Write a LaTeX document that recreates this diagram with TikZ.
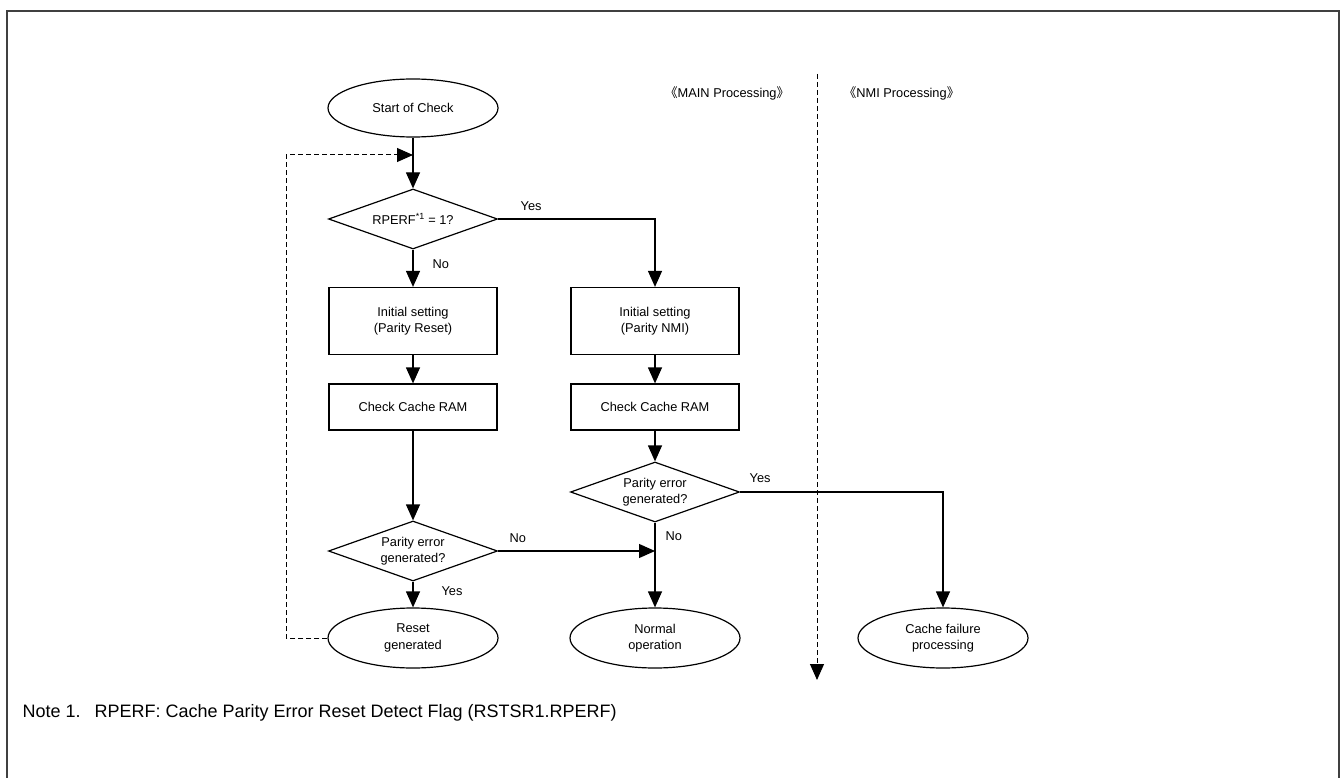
\documentclass[tikz,border=0pt]{standalone}
\usepackage{fontspec}
\setmainfont{Liberation Sans}
\newfontfamily\cjk{Noto Sans CJK SC}
\usetikzlibrary{positioning,arrows.meta,shapes.geometric}

\begin{document}
\begin{tikzpicture}[x=1pt,y=-1pt,>={Triangle[length=16pt,width=14pt]},line width=1.2pt,
  every node/.style={font=\fontsize{12.8}{16.5}\selectfont},
  term/.style={draw,ellipse,minimum width=170pt,minimum height=58pt,inner sep=0pt,align=center},
  proc/.style={draw,rectangle,minimum width=168pt,inner sep=0pt,align=center},
  decision/.style={draw,diamond,aspect=3,minimum width=169pt,minimum height=60pt,inner sep=0pt,align=center},
  lbl/.style={inner sep=0pt},
  loop/.style={line width=1pt,dash pattern=on 5pt off 3pt}]
\useasboundingbox (0,0) rectangle (1340,778);
\draw[line width=2pt,black!75] (7,778) -- (7,11) -- (1339,11) -- (1339,778);

% headings
\node[lbl,anchor=east] (mainlbl) at (790,93) {{\cjk 《}MAIN Processing{\cjk 》}};
\node[lbl,anchor=west] (nmilbl) at (843,93) {{\cjk 《}NMI Processing{\cjk 》}};

% main flow
\node[term] (start) at (413,108) {Start of Check};
\node[decision] (q1) at (413,219) {RPERF\textsuperscript{*1} = 1?};
\node[proc,minimum height=67pt] (init1) at (413,321) {Initial setting\\(Parity Reset)};
\node[proc,minimum height=67pt] (init2) at (655,321) {Initial setting\\(Parity NMI)};
\node[proc,minimum height=46pt] (chk1) at (413,407) {Check Cache RAM};
\node[proc,minimum height=46pt] (chk2) at (655,407) {Check Cache RAM};
\node[decision] (q3) at (655,492) {Parity error\\generated?};
\node[decision] (q2) at (413,551) {Parity error\\generated?};
\node[term,minimum height=60pt] (rst) at (413,638) {Reset\\generated};
\node[term,minimum height=60pt] (norm) at (655,638) {Normal\\operation};
\node[term,minimum height=60pt] (fail) at (943,638) {Cache failure\\processing};

% branch labels
\node[lbl,above right=8pt and 22pt of q1.east] (yes1) {Yes};
\node[lbl,below right=9pt and 19pt of q1.south] (no1) {No};
\node[lbl,above right=8pt and 11pt of q2.east] (no2) {No};
\node[lbl,below right=4pt and 28pt of q2.south] (yes2) {Yes};
\node[lbl,below right=8pt and 10pt of q3.south] (no3) {No};
\node[lbl,above right=9pt and 9pt of q3.east] (yes3) {Yes};

\coordinate (join) at (q3.south |- q2.east);
\coordinate (back) at (413,155);
\coordinate (divtop) at (817,74);
\coordinate (divbot) at (817,680);

\draw[->] (start) -- (q1);
\draw[->] (q1) -- (init1);
\draw[->] (q1.east) -| (init2.north);
\draw[->] (init1) -- (chk1);
\draw[->] (init2) -- (chk2);
\draw[->] (chk1) -- (q2);
\draw[->] (chk2) -- (q3);
\draw[->] (q2) -- (rst);
\draw[->] (q3) -- (norm);
\draw[->] (q3.east) -| (fail.north);
\draw[->] (q2.east) -- (join);
\draw[loop,->] (rst.west) -- ++(-41,0) |- (back);
\draw[loop,->] (divtop) -- (divbot);

% footnote
\node[lbl,anchor=west,font=\fontsize{18}{22}\selectfont] (note) at (22,713)
  {Note 1.\hspace{14pt}RPERF: Cache Parity Error Reset Detect Flag (RSTSR1.RPERF)};
\end{tikzpicture}
\end{document}
